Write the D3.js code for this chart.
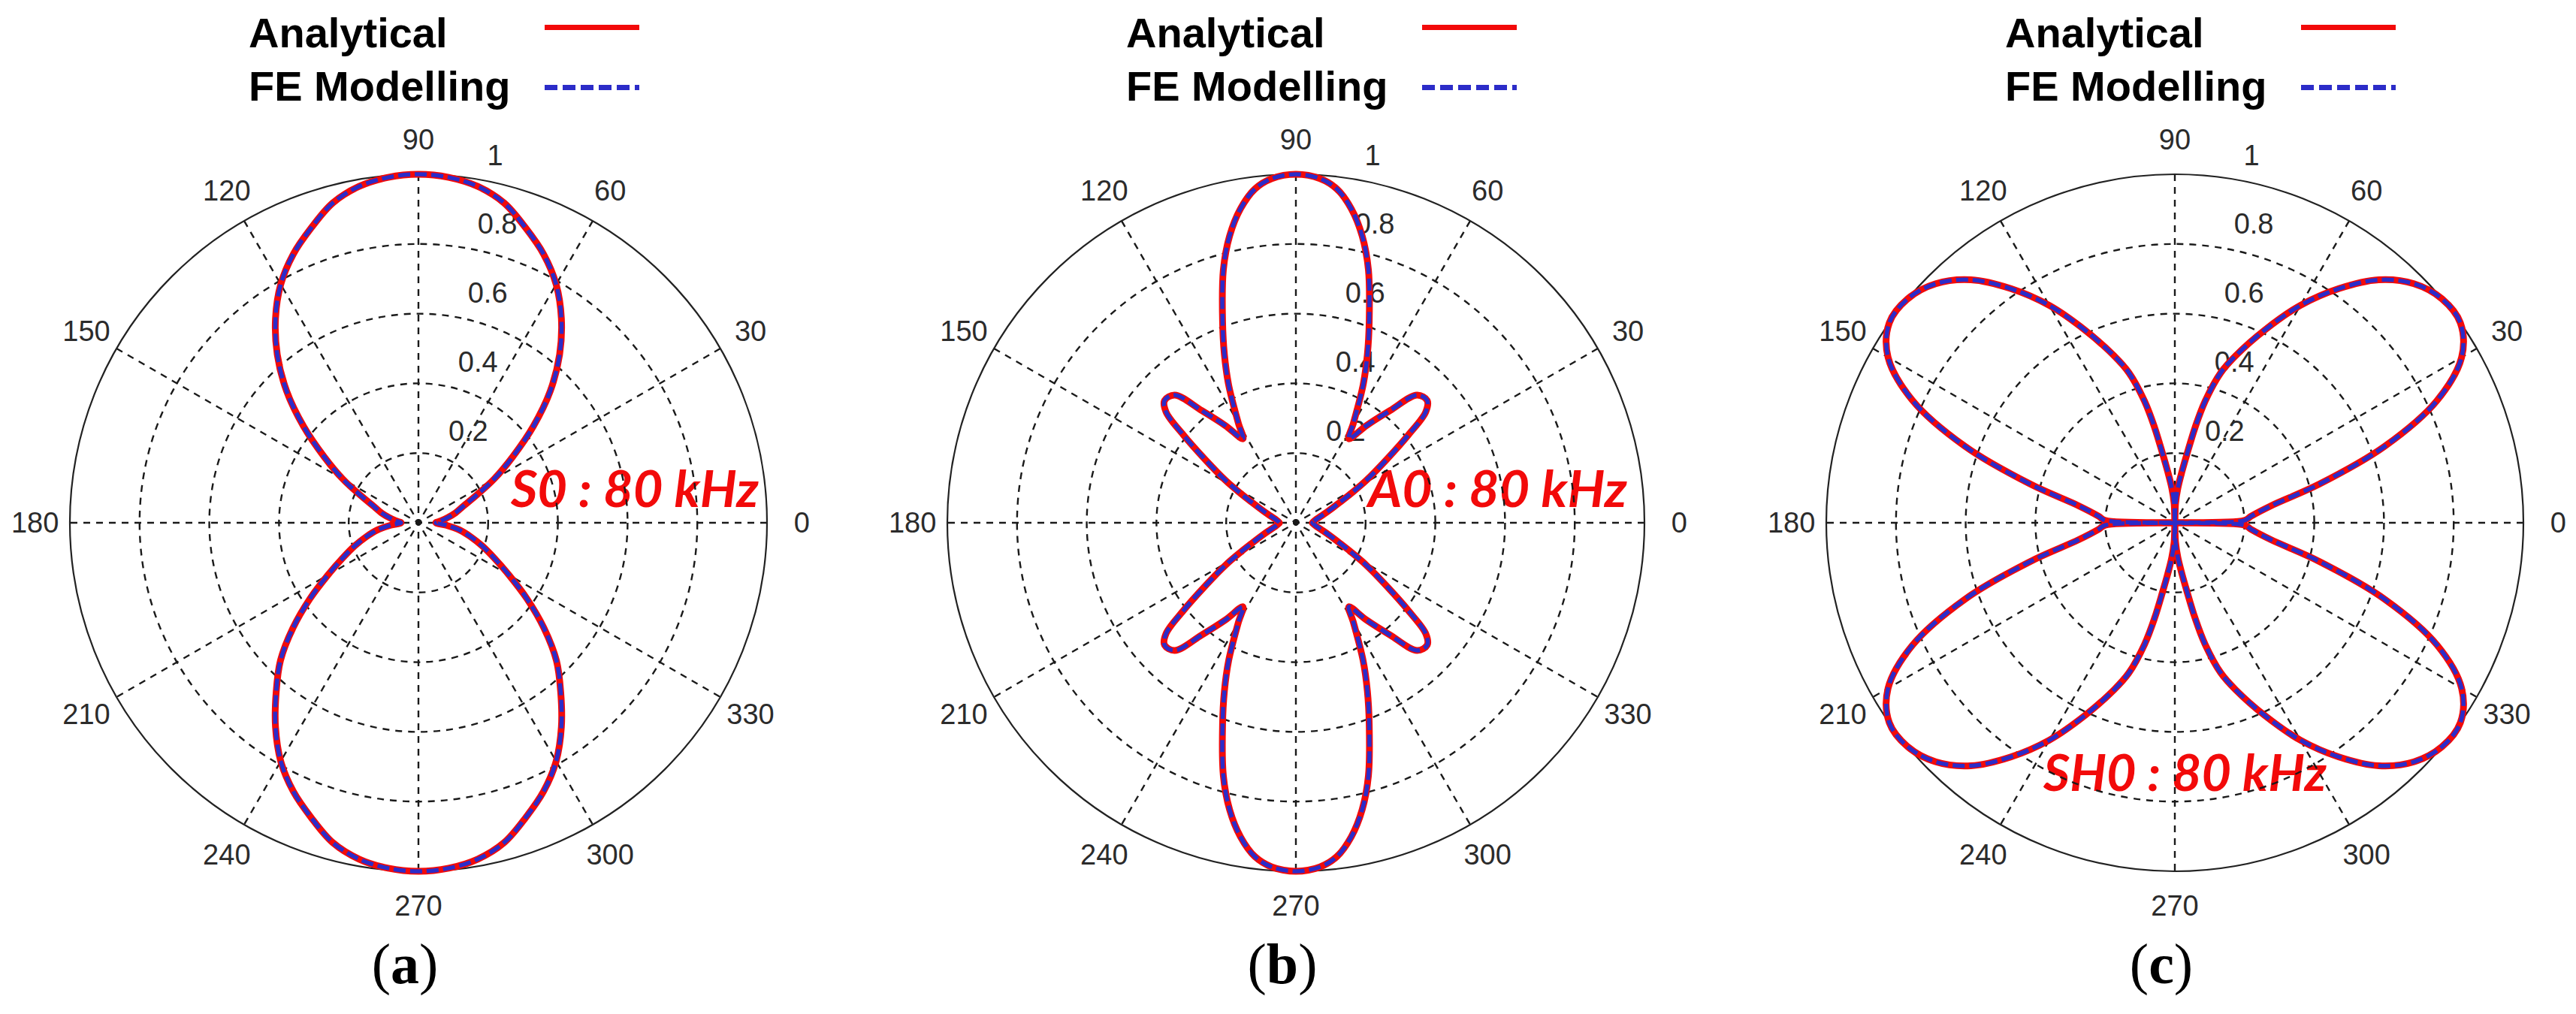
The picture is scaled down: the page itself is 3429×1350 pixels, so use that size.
<!DOCTYPE html>
<html>
<head>
<meta charset="utf-8">
<script src="https://d3js.org/d3.v7.min.js"></script>
<style>
  body { margin: 0; background: #fff; }
  svg { display: block; }
</style>
</head>
<body>
<svg id="viz"></svg>
<script>

// ---- data (angle in degrees, normalised amplitude) ----
var angTicks = [0, 30, 60, 90, 120, 150, 180, 210, 240, 270, 300, 330];
var radTicks = [0.2, 0.4, 0.6, 0.8, 1];
var seriesNames = ['Analytical', 'FE Modelling'];

// (a) S0 : 80 kHz
var angA = [0,5,10,15,20,25,30,35,40,45,50,55,60,65,70,75,80,85,90,95,100,105,110,115,120,125,130,135,140,145,150,155,160,165,170,175,180,185,190,195,200,205,210,215,220,225,230,235,240,245,250,255,260,265,270,275,280,285,290,295,300,305,310,315,320,325,330,335,340,345,350,355];
var anRA = [0.05,0.065,0.085,0.11,0.135,0.18,0.25,0.33,0.43,0.535,0.63,0.715,0.79,0.85,0.90,0.95,0.98,0.995,1.00,
  0.995,0.98,0.95,0.90,0.85,0.79,0.715,0.63,0.535,0.43,0.33,0.25,0.18,0.135,0.11,0.085,0.065,0.05,
  0.08,0.12,0.155,0.195,0.24,0.30,0.38,0.47,0.56,0.635,0.715,0.79,0.85,0.90,0.95,0.98,0.995,1.00,
  0.995,0.98,0.95,0.90,0.85,0.79,0.715,0.635,0.56,0.47,0.38,0.30,0.24,0.195,0.155,0.12,0.08];
var feRA = [0.05,0.065,0.085,0.11,0.135,0.18,0.25,0.33,0.43,0.535,0.63,0.715,0.79,0.85,0.90,0.95,0.98,0.995,1.00,
  0.995,0.98,0.95,0.90,0.85,0.79,0.715,0.63,0.535,0.43,0.33,0.25,0.18,0.135,0.11,0.085,0.065,0.05,
  0.08,0.12,0.155,0.195,0.24,0.30,0.38,0.47,0.56,0.635,0.715,0.79,0.85,0.90,0.95,0.98,0.995,1.00,
  0.995,0.98,0.95,0.90,0.85,0.79,0.715,0.635,0.56,0.47,0.38,0.30,0.24,0.195,0.155,0.12,0.08];

// (b) A0 : 80 kHz
var angB = [0,5,10,15,20,25,28,31,35,38,40.5,43,46.5,50,54,57.8,60,64,67,70,74,77,80,83,86,90,
  94,97,100,103,106,110,113,116,120,122.2,126,130,133.5,137,139.5,142,145,149,152,155,160,165,170,175,180,
  185,190,195,200,205,208,211,215,218,220.5,223,226.5,230,234,237.8,240,244,247,250,254,257,260,263,266,270,
  274,277,280,283,286,290,293,296,300,302.2,306,310,313.5,317,319.5,322,325,329,332,335,340,345,350,355];
var anRB = [0.047,0.052,0.06,0.075,0.10,0.14,0.18,0.235,0.32,0.41,0.49,0.515,0.505,0.42,0.345,0.285,0.33,0.44,0.525,0.615,0.755,0.845,0.915,0.965,0.99,1.00,
  0.99,0.965,0.915,0.845,0.755,0.615,0.525,0.44,0.33,0.285,0.345,0.42,0.505,0.515,0.49,0.41,0.32,0.235,0.18,0.14,0.10,0.075,0.06,0.052,0.047,
  0.052,0.06,0.075,0.10,0.14,0.18,0.235,0.32,0.41,0.49,0.515,0.505,0.42,0.345,0.285,0.33,0.44,0.525,0.615,0.755,0.845,0.915,0.965,0.99,1.00,
  0.99,0.965,0.915,0.845,0.755,0.615,0.525,0.44,0.33,0.285,0.345,0.42,0.505,0.515,0.49,0.41,0.32,0.235,0.18,0.14,0.10,0.075,0.06,0.052];
var feRB = [0.047,0.052,0.06,0.075,0.10,0.14,0.18,0.235,0.32,0.41,0.49,0.515,0.505,0.42,0.345,0.285,0.33,0.44,0.525,0.615,0.755,0.845,0.915,0.965,0.99,1.00,
  0.99,0.965,0.915,0.845,0.755,0.615,0.525,0.44,0.33,0.285,0.345,0.42,0.505,0.515,0.49,0.41,0.32,0.235,0.18,0.14,0.10,0.075,0.06,0.052,0.047,
  0.052,0.06,0.075,0.10,0.14,0.18,0.235,0.32,0.41,0.49,0.515,0.505,0.42,0.345,0.285,0.33,0.44,0.525,0.615,0.755,0.845,0.915,0.965,0.99,1.00,
  0.99,0.965,0.915,0.845,0.755,0.615,0.525,0.44,0.33,0.285,0.345,0.42,0.505,0.515,0.49,0.41,0.32,0.235,0.18,0.14,0.10,0.075,0.06,0.052];

// (c) SH0 : 80 kHz
var angC = [0,2,5,10,15,20,25,30,35,40,45,50,55,60,65,70,73,76,78,80,82,85,88,90,
  92,95,98,100,102,104,107,110,115,120,125,130,135,140,145,150,155,160,165,170,175,178,180,
  182,185,190,195,200,205,210,215,220,225,230,235,240,245,250,253,256,258,260,262,265,268,270,
  272,275,278,280,282,284,287,290,295,300,305,310,315,320,325,330,335,340,345,350,355,358];
var anRC = [0,0.20,0.22,0.28,0.43,0.64,0.83,0.95,1.0,1.0,0.97,0.91,0.82,0.72,0.61,0.51,0.45,0.36,0.28,0.20,0.15,0.10,0.055,0,
  0.055,0.10,0.15,0.20,0.28,0.36,0.45,0.51,0.61,0.72,0.82,0.91,0.97,1.0,1.0,0.95,0.83,0.64,0.43,0.28,0.22,0.20,0,
  0.20,0.22,0.28,0.43,0.64,0.83,0.95,1.0,1.0,0.97,0.91,0.82,0.72,0.61,0.51,0.45,0.36,0.28,0.20,0.15,0.10,0.055,0,
  0.055,0.10,0.15,0.20,0.28,0.36,0.45,0.51,0.61,0.72,0.82,0.91,0.97,1.0,1.0,0.95,0.83,0.64,0.43,0.28,0.22,0.20];
var feRC = [0,0.20,0.22,0.28,0.43,0.64,0.83,0.95,1.0,1.0,0.97,0.91,0.82,0.72,0.61,0.51,0.45,0.36,0.28,0.20,0.15,0.10,0.055,0,
  0.055,0.10,0.15,0.20,0.28,0.36,0.45,0.51,0.61,0.72,0.82,0.91,0.97,1.0,1.0,0.95,0.83,0.64,0.43,0.28,0.22,0.20,0,
  0.20,0.22,0.28,0.43,0.64,0.83,0.95,1.0,1.0,0.97,0.91,0.82,0.72,0.61,0.51,0.45,0.36,0.28,0.20,0.15,0.10,0.055,0,
  0.055,0.10,0.15,0.20,0.28,0.36,0.45,0.51,0.61,0.72,0.82,0.91,0.97,1.0,1.0,0.95,0.83,0.64,0.43,0.28,0.22,0.20];

var modeLabels = ['S0 : 80 kHz', 'A0 : 80 kHz', 'SH0 : 80 kHz'];
var panelLetters = ['a', 'b', 'c'];

// ---- layout ----
var width = 3429, height = 1350;
var R = 464, cy = 696;
var red = '#f20a0a', blue = '#2c2cc8';

var panels = [
  {cx: 557,  ang: angA, an: anRA, fe: feRA, tx: 123,  ty: -21, tw: 330},
  {cx: 1725, ang: angB, an: anRB, fe: feRB, tx: 96,   ty: -21, tw: 345},
  {cx: 2895, ang: angC, an: anRC, fe: feRC, tx: -175, ty: 357, tw: 377}
];

var svg = d3.select('#viz').attr('width', width).attr('height', height);
svg.append('rect').attr('width', width).attr('height', height).attr('fill', '#fff');

var r = d3.scaleLinear().domain([0, 1]).range([0, R]);
var rad = function(deg) { return deg * Math.PI / 180; };

var radial = d3.lineRadial()
    .angle(function(d) { return Math.PI / 2 - rad(d[0]); })
    .radius(function(d) { return r(d[1]); })
    .curve(d3.curveCatmullRomClosed.alpha(0.5));

panels.forEach(function(p, i) {
    var g = svg.append('g').attr('transform', 'translate(' + p.cx + ',' + cy + ')');

    // mode annotation (sits under the grid like in the original)
    g.append('text')
        .attr('x', p.tx).attr('y', p.ty)
        .attr('textLength', p.tw).attr('lengthAdjust', 'spacingAndGlyphs')
        .style('font-family', 'Lato, "Open Sans", sans-serif')
        .style('font-weight', 'bold').style('font-style', 'italic')
        .style('font-size', '66px').attr('fill', red)
        .text(modeLabels[i]);

    // grid
    g.selectAll('circle.ring')
        .data(radTicks.slice(0, -1))
        .enter().append('circle')
        .attr('class', 'ring')
        .attr('r', function(d) { return r(d); })
        .attr('fill', 'none').attr('stroke', '#1a1a1a')
        .attr('stroke-width', 2.4).attr('stroke-dasharray', '9,8');

    g.selectAll('line.spoke')
        .data(angTicks.slice(0, 6))
        .enter().append('line')
        .attr('class', 'spoke')
        .attr('x1', function(d) { return r(1) * Math.cos(rad(d)); })
        .attr('y1', function(d) { return -r(1) * Math.sin(rad(d)); })
        .attr('x2', function(d) { return -r(1) * Math.cos(rad(d)); })
        .attr('y2', function(d) { return r(1) * Math.sin(rad(d)); })
        .attr('stroke', '#1a1a1a').attr('stroke-width', 2.4)
        .attr('stroke-dasharray', '9,8');

    g.append('circle').attr('r', r(1))
        .attr('fill', 'none').attr('stroke', '#222').attr('stroke-width', 2.2);

    // angle labels at 1.1 R
    g.selectAll('text.ang')
        .data(angTicks)
        .enter().append('text')
        .attr('class', 'ang')
        .attr('x', function(d) { return r(1.1) * Math.cos(rad(d)); })
        .attr('y', function(d) { return -r(1.1) * Math.sin(rad(d)); })
        .attr('text-anchor', 'middle').attr('dominant-baseline', 'central')
        .style('font-family', '"Liberation Sans", Arial, sans-serif')
        .style('font-size', '38px').attr('fill', '#2b2b2b')
        .text(function(d) { return d; });

    // radial labels along 82 deg
    g.selectAll('text.rad')
        .data(radTicks)
        .enter().append('text')
        .attr('class', 'rad')
        .attr('x', function(d) { return r(d) * Math.cos(rad(82)) + 27; })
        .attr('y', function(d) { return -r(d) * Math.sin(rad(82)) - 17; })
        .style('font-family', '"Liberation Sans", Arial, sans-serif')
        .style('font-size', '38px').attr('fill', '#2b2b2b')
        .text(function(d) { return d; });

    // curves: analytical (solid red) under FE (dashed blue)
    var anPts = p.ang.map(function(a, k) { return [a, p.an[k]]; });
    var fePts = p.ang.map(function(a, k) { return [a, p.fe[k]]; });

    g.append('path').datum(anPts).attr('d', radial)
        .attr('fill', 'none').attr('stroke', red)
        .attr('stroke-width', 9).attr('stroke-linejoin', 'round');
    g.append('path').datum(fePts).attr('d', radial)
        .attr('fill', 'none').attr('stroke', blue)
        .attr('stroke-width', 5.5).attr('stroke-dasharray', '16,6');

    // legend
    var leg = svg.append('g').attr('transform', 'translate(' + p.cx + ',0)');
    leg.selectAll('text')
        .data(seriesNames)
        .enter().append('text')
        .attr('x', -226)
        .attr('y', function(d, k) { return 63 + k * 71; })
        .style('font-family', '"Liberation Sans", Arial, sans-serif')
        .style('font-weight', 'bold').style('font-size', '56px')
        .attr('fill', '#000')
        .text(function(d) { return d; });
    leg.append('line').attr('x1', 168).attr('x2', 294).attr('y1', 36.5).attr('y2', 36.5)
        .attr('stroke', red).attr('stroke-width', 7);
    leg.append('line').attr('x1', 168).attr('x2', 294).attr('y1', 116.5).attr('y2', 116.5)
        .attr('stroke', blue).attr('stroke-width', 7).attr('stroke-dasharray', '17,7');

    // panel letter
    var lab = svg.append('text')
        .attr('x', p.cx - 18).attr('y', 1309)
        .attr('text-anchor', 'middle')
        .style('font-family', '"Liberation Serif", "DejaVu Serif", serif')
        .style('font-size', '76px').attr('fill', '#000');
    lab.append('tspan').text('(');
    lab.append('tspan').style('font-weight', 'bold').text(panelLetters[i]);
    lab.append('tspan').text(')');
});

</script>
</body>
</html>
